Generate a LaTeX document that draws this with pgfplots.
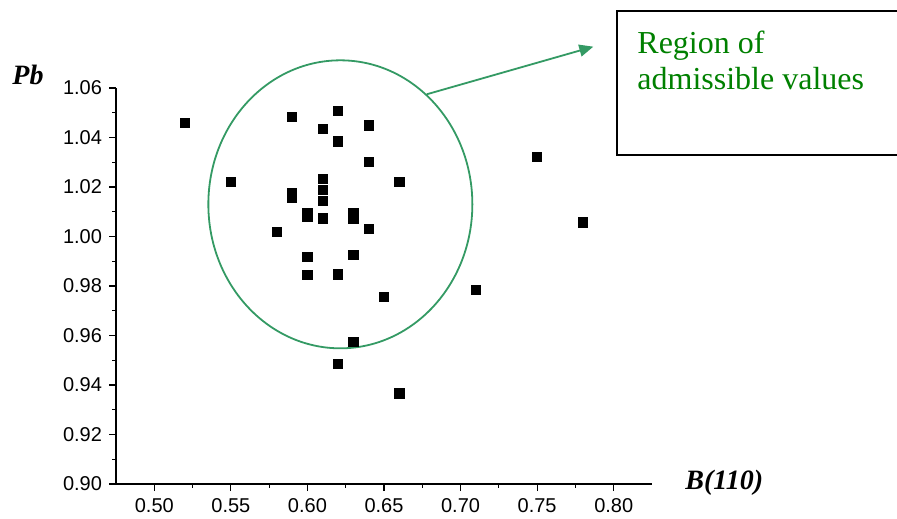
\documentclass[border=0pt]{standalone}
\usepackage{fontspec}
\setmainfont{Liberation Sans}
\newfontfamily\tnr{Liberation Serif}
\usepackage{pgfplots}
\pgfplotsset{compat=1.18}
\usetikzlibrary{arrows.meta}
\definecolor{ellgreen}{RGB}{52,154,100}
\definecolor{txtgreen}{RGB}{0,128,0}
\begin{document}
\begin{tikzpicture}
\useasboundingbox (0,0) rectangle (448.5pt,259pt);
\begin{axis}[
  at={(58pt,17pt)}, anchor=south west,
  scale only axis, width=268pt, height=198pt,
  xmin=0.475, xmax=0.825, ymin=0.90, ymax=1.06,
  axis lines=left, axis line style={-, line width=0.75pt},
  xtick={0.50,0.55,0.60,0.65,0.70,0.75,0.80},
  ytick={0.90,0.92,0.94,0.96,0.98,1.00,1.02,1.04,1.06},
  minor x tick num=1, minor y tick num=1,
  tick align=outside, major tick length=3.5pt, minor tick length=1.8pt,
  every tick/.style={black, line width=0.6pt},
  /pgf/number format/.cd, fixed, fixed zerofill, precision=2, assume math mode=true,
  /pgfplots/.cd,
  ticklabel style={font=\fontsize{10}{11}\selectfont},
  clip=false,
]
\addplot[only marks, mark=square*, mark size=2.3pt, black] coordinates {
(0.52,1.046)
(0.55,1.022)
(0.58,1.0017)
(0.59,1.0483)
(0.59,1.0174)
(0.59,1.0158)
(0.60,1.0096)
(0.60,1.0081)
(0.60,0.9917)
(0.60,0.9844)
(0.61,1.0435)
(0.61,1.0234)
(0.61,1.0189)
(0.61,1.0144)
(0.61,1.0073)
(0.62,1.0509)
(0.62,1.0384)
(0.62,0.9847)
(0.62,0.9486)
(0.63,1.0096)
(0.63,1.0073)
(0.63,0.9925)
(0.63,0.9574)
(0.64,1.0449)
(0.64,1.0302)
(0.64,1.0032)
(0.65,0.9755)
(0.66,1.0222)
(0.66,0.9366)
(0.71,0.9784)
(0.75,1.0323)
(0.78,1.0057)
};
\draw[ellgreen, line width=0.9pt] (axis cs:0.6215,1.013) ellipse [x radius=66pt, y radius=72pt];
\end{axis}
\draw[ellgreen, line width=0.9pt, -{Triangle[length=7pt,width=6pt]}] (213.35pt,211.85pt) -- (296.65pt,235.65pt);
\draw[line width=0.9pt] (308.5pt,181.5pt) rectangle (470pt,253.5pt);
\node[anchor=base west, inner sep=0, text=txtgreen, font=\tnr\fontsize{16}{18}\selectfont] at (318.5pt,232pt) {Region of};
\node[anchor=base west, inner sep=0, text=txtgreen, font=\tnr\fontsize{16}{18}\selectfont] at (318.5pt,214pt) {admissible values};
\node[anchor=base west, inner sep=0, font=\tnr\bfseries\itshape\fontsize{14}{16}\selectfont] at (6pt,216.5pt) {Pb};
\node[anchor=base west, inner sep=0, font=\tnr\bfseries\itshape\fontsize{14}{16}\selectfont] at (342.5pt,14pt) {B(110)};
\end{tikzpicture}
\end{document}
